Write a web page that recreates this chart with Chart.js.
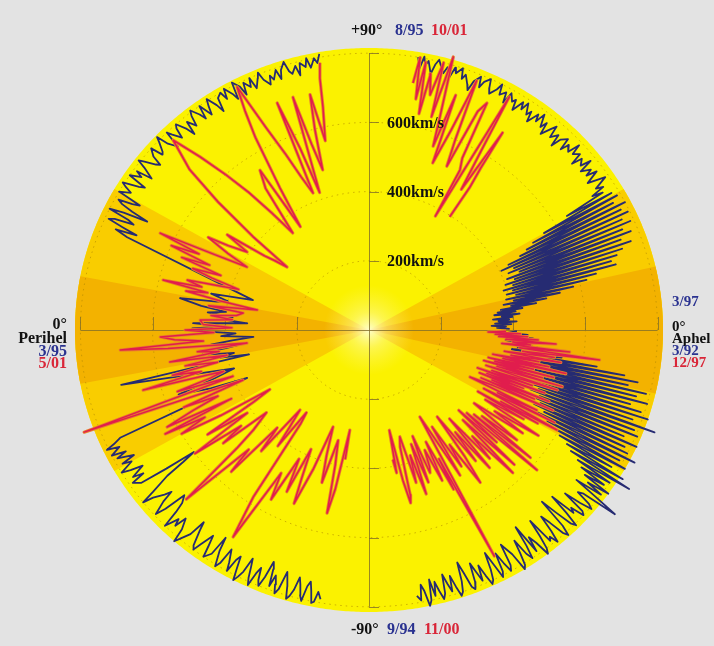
<!DOCTYPE html>
<html>
<head>
<meta charset="utf-8">
<script src="https://cdn.jsdelivr.net/npm/chart.js@4.4.0/dist/chart.umd.min.js"></script>
<style>
  html, body { margin: 0; padding: 0; background: #e3e3e3; }
  #wrap { width: 714px; height: 646px; }
</style>
</head>
<body>
<div id="wrap"><canvas id="ulysses" width="714" height="646"></canvas></div>
<script>
// Ulysses solar wind speed against heliolatitude
// every point is [heliolatitude (deg), speed (km/s)]

// first orbit (blue)
const orbit1AphSouth = [ // 3/92 -> 9/94, aphelion side
  [-0.5,410],[-1.2,385],[-1.8,440],[-2.5,400],[-3.1,455],[-3.8,410],[-4.4,380],[-5,440],[-5.6,405],[-6.2,470],
  [-6.8,415],[-7.4,450],[-8,400],[-8.5,540],[-9,430],[-9.5,640],[-10,445],[-10.5,720],[-11,430],[-11.5,760],
  [-12,455],[-12.5,735],[-13,440],[-13.5,790],[-14,470],[-14.5,765],[-15,450],[-15.5,800],[-16,480],[-16.5,755],
  [-17,460],[-17.5,790],[-18,490],[-18.5,815],[-19,470],[-19.5,775],[-20,500],[-20.5,845],[-21,480],[-21.5,790],
  [-22,510],[-22.5,805],[-23,490],[-23.5,770],[-24,520],[-24.5,815],[-25,505],[-25.5,785],[-26,540],[-26.5,800],
  [-27,525],[-27.5,830],[-28,560],[-28.5,790],[-29,590],[-29.5,815],[-30,610],[-30.5,780],[-31,640],[-31.5,825],
  [-32,660],[-32.5,855],[-33,690],[-33.5,800],[-34,710],[-34.5,790],[-35,730],[-35.5,815],[-36,750],[-36.5,800],
  [-37,720],[-37.5,790],[-38,865],[-38.5,760],[-39,745],[-39.5,790],[-40,805],[-40.5,770],[-41,720],[-41.5,790],
  [-42,800],[-42.5,760],[-43,775],[-43.5,700],[-44,760],[-44.5,805],[-45,790],[-45.5,740],[-46,690],[-46.5,780],
  [-47,810],[-47.5,795],[-48,750],[-48.5,720],[-49,770],[-49.5,805],[-50,780],[-50.5,790],[-51,710],[-51.5,760],
  [-52,800],[-52.5,815],[-53,770],[-53.5,745],[-54,790],[-54.5,700],[-55,760],[-55.5,800],[-56,780],[-56.5,730],
  [-57,770],[-57.5,805],[-58,815],[-58.5,760],[-59,740],[-59.5,720],[-60,785],[-60.5,800],[-61,770],[-61.5,735],
  [-62,790],[-62.5,805],[-63,760],[-63.5,720],[-64,770],[-64.5,800],[-65,810],[-65.5,780],[-66,745],[-66.5,790],
  [-67,760],[-67.5,730],[-68,785],[-68.5,805],[-69,795],[-69.5,750],[-70,715],[-70.5,770],[-71,800],[-71.5,810],
  [-72,780],[-72.5,745],[-73,790],[-73.5,765],[-74,735],[-74.5,790],[-75,805],[-75.5,780],[-76,750],[-76.5,790],
  [-77,740],[-77.5,800],[-78,815],[-78.5,770],[-79,750],[-79.5,795],[-80.2,780]
];
const orbit1Peri = [ // 9/94 -> 3/95 -> 8/95, perihelion side
  [-80.2,790],[-79.5,770],[-79,800],[-78.5,805],[-78,770],[-77.5,745],[-77,760],[-76.5,805],[-76,790],[-75.5,760],
  [-75,740],[-74.5,780],[-74,800],[-73.5,810],[-73,775],[-72.5,750],[-72,735],[-71.5,790],[-71,805],[-70.5,780],
  [-70,755],[-69.5,790],[-69,740],[-68.5,720],[-68,770],[-67.5,800],[-67,785],[-66.5,750],[-66,770],[-65.5,810],
  [-65,790],[-64.5,760],[-64,735],[-63.5,780],[-63,800],[-62.5,815],[-62,780],[-61.5,745],[-61,760],[-60.5,800],
  [-60,775],[-59,740],[-58.5,790],[-58,805],[-57,760],[-56.5,720],[-56,780],[-55,800],[-54.5,765],[-54,735],
  [-53,775],[-52.5,800],[-52,790],[-51,745],[-50.5,720],[-50,770],[-49,800],[-48.5,815],[-48,775],[-47,745],
  [-46.5,780],[-46,760],[-45,800],[-44.5,750],[-44,720],[-43,700],[-42.5,765],[-42,795],[-41,755],[-40.5,720],
  [-40,740],[-39,770],[-38.5,800],[-38,760],[-37,700],[-36.5,640],[-36,600],[-35.5,690],[-35,770],[-34,790],
  [-33.5,750],[-33,780],[-32,740],[-31.5,775],[-31,800],[-30,760],[-29.5,785],[-29,745],[-28,790],[-27.5,760],
  [-27,800],[-26,770],[-25.5,805],[-25,780],[-24.3,757],[-22.3,365],[-21,470],[-19.5,560],[-18,450],[-16.5,390],
  [-14.5,520],[-13,705],[-12,340],[-11,420],[-10,380],[-9,450],[-8.2,465],[-7.5,400],[-6.5,350],[-5.5,440],
  [-4.5,380],[-3.5,321],[-2.5,410],[-1.5,370],[-0.5,460],[0.5,490],[1.5,400],[2.3,488],[3.3,338],[4.5,420],
  [5.5,380],[6.5,450],[7.5,400],[8.5,470],[10,532],[11,430],[12,400],[13.5,450],[15,333],[21.8,722],
  [22.5,760],[23,700],[23.5,745],[24,790],[24.5,775],[25,720],[25.5,740],[26,800],[26.5,760],[27,690],
  [27.5,740],[28,775],[28.5,790],[29,750],[29.5,730],[30,800],[31,770],[31.5,790],[32,805],[33,760],
  [33.5,745],[34,800],[35,770],[35.5,790],[36,745],[37,780],[37.5,805],[38,790],[39,760],[39.5,750],
  [40,780],[41,800],[41.5,765],[42,770],[43,795],[43.5,810],[44,775],[45,750],[45.5,800],[46,785],
  [47,760],[47.5,790],[48,800],[49,770],[49.5,745],[50,785],[51,760],[51.5,790],[52,805],[53,780],
  [53.5,760],[54,800],[55,760],[55.5,785],[56,805],[57,775],[57.5,750],[58,790],[59,800],[59.5,775],
  [60,805],[61,780],[61.5,760],[62,810],[63,790],[63.5,760],[64,795],[65,775],[65.5,800],[66,765],
  [67,790],[67.5,805],[68,780],[69,760],[69.5,785],[70,770],[71,795],[71.5,765],[72,790],[73,810],
  [73.5,780],[74,770],[75,790],[75.5,760],[76,795],[77,780],[77.5,805],[78,775],[79,800],[79.5,785],[80.2,810]
];
const orbit1AphNorth = [ // 8/95 -> 3/97, aphelion side
  [80.2,800],[79.5,770],[79,805],[78.5,780],[78,795],[77,760],[76.5,790],[76,805],[75,780],[74.5,770],
  [74,790],[73,765],[72.5,795],[72,780],[71,800],[70.5,770],[70,785],[69,760],[68.5,745],[68,775],
  [67,795],[66.5,765],[66,785],[65,800],[64.5,775],[64,760],[63,780],[62.5,800],[62,770],[61,785],
  [60.5,755],[60,790],[59,770],[58.5,780],[58,750],[57,785],[56.5,765],[56,790],[55,760],[54.5,775],
  [54,745],[53,780],[52.5,760],[52,790],[51,755],[50.5,775],[50,740],[49,770],[48.5,785],[48,750],
  [47,770],[46.5,735],[46,765],[45,780],[44.5,745],[44,770],[43,755],[42.5,790],[42,760],[41,775],
  [40.5,740],[40,770],[39,755],[38.5,785],[38,745],[37,770],[36.5,750],[36,780],[35,740],[34.5,765],
  [34,790],[33,750],[32.5,770],[32,730],[31.5,760],[31,640],[30.5,780],[30,560],[29.5,790],[29,520],
  [28.5,770],[28,495],[27.5,800],[27,470],[26.5,780],[26,430],[25.5,795],[25,405],[24.5,770],[24,440],
  [23.5,790],[23,420],[22.5,760],[22,450],[21.5,780],[21,410],[20.5,745],[20,430],[19.5,770],[19,400],
  [18.5,740],[18,420],[17.5,720],[17,390],[16.5,700],[16,415],[15.5,710],[15,395],[14.5,650],[14,420],
  [13.5,620],[13,390],[12.5,580],[12,410],[11.5,540],[11,380],[10.5,500],[10,400],[9.5,470],[9,370],
  [8.5,430],[8,360],[7.5,410],[7,350],[6.5,420],[6,370],[5.5,400],[5,345],[4.5,390],[4,360],
  [3.5,410],[3,350],[2.5,395],[2,340],[1.5,380],[1,355],[0.5,390]
];

// second orbit (red)
const orbit2AphSouth = [ // 12/97 -> 11/00, aphelion side
  [-0.5,380],[-1,330],[-1.5,420],[-2,350],[-2.5,440],[-3,360],[-3.5,470],[-4,380],[-4.5,520],[-5,400],
  [-5.5,450],[-6,370],[-6.5,560],[-7,420],[-7.7,645],[-8.2,430],[-8.8,520],[-9.3,380],[-10,540],[-10.5,400],
  [-11,480],[-11.5,350],[-12,510],[-12.5,380],[-13,560],[-13.5,340],[-14,470],[-14.5,360],[-15,530],[-15.5,330],
  [-16,500],[-16.5,370],[-17,560],[-17.5,340],[-18.4,550],[-19,360],[-19.5,480],[-20,320],[-20.5,520],[-21,350],
  [-21.5,460],[-22,330],[-22.5,540],[-23,370],[-23.5,500],[-24,340],[-24.5,560],[-25,380],[-25.9,311],[-26.5,520],
  [-27,400],[-27.5,580],[-28,360],[-29,596],[-29.5,420],[-30,540],[-30.5,350],[-31,500],[-32,380],[-33,560],
  [-34,420],[-35,520],[-36,360],[-37.8,519],[-38.5,400],[-39.5,580],[-40,380],[-41,617],[-41.5,362],[-42.5,480],
  [-43,340],[-44,560],[-45,368],[-46,574],[-47,420],[-48,500],[-49,340],[-50,520],[-51,380],[-52,480],
  [-53,314],[-54,450],[-55,538],[-56,400],[-57,470],[-58,330],[-59,490],[-60.7,288],[-62,740],[-62.5,420],
  [-63,517],[-64,360],[-65,480],[-66,380],[-67,430],[-67.7,446],[-68.5,330],[-69.5,470],[-70.5,350],[-71.5,500],
  [-72.5,380],[-73.5,460],[-74.5,320],[-75.7,349],[-76.5,490],[-77,513],[-77.8,444],[-78.5,340],[-79,295],[-79.5,420],
  [-80,380]
];
const orbit2Peri = [ // 11/00 -> 5/01 -> 10/01, perihelion side
  [-80,380],[-79.6,294],[-78.5,470],[-77.6,542],[-76.5,400],[-75,330],[-73.5,460],[-72,380],[-70.4,297],[-69,430],
  [-67.5,543],[-66.5,470],[-65,380],[-64,520],[-62.5,420],[-61,560],[-59.5,480],[-57.8,707],[-56.4,580],[-55,330],
  [-54,295],[-53,420],[-52,360],[-50.4,300],[-49.5,460],[-48,380],[-47,560],[-46,480],[-44,704],[-43,500],
  [-42,430],[-40,371],[-39,520],[-38,450],[-36.5,600],[-35.4,414],[-34,540],[-33,380],[-32,324],[-31,480],
  [-30,600],[-29,520],[-28,640],[-27.5,430],[-26.6,626],[-25.5,540],[-24.5,460],[-23.5,560],[-22.5,378],[-20.5,843],
  [-19.5,400],[-18.5,560],[-17.5,460],[-16.5,420],[-15.5,650],[-14.5,480],[-13.5,560],[-12.5,430],[-11.5,520],[-10.5,400],
  [-9.5,560],[-8.5,420],[-7.5,480],[-6.4,340],[-5.5,560],[-4.8,692],[-4,460],[-3,540],[-2,579],[-1,430],
  [0,510],[1,380],[2,460],[3.5,469],[4.5,380],[5.5,440],[6.5,370],[8,352],[9,450],[10.6,315],
  [11.5,420],[12.5,520],[13.5,460],[14.2,589],[15,480],[16,524],[17,440],[18,380],[19,460],[20,520],
  [21,440],[22,560],[23,480],[24,600],[25,520],[25.8,643],[27,480],[28.3,384],[29.5,450],[31,520],
  [32,460],[33.7,406],[35,480],[36.5,360],[37.5,330],[38.7,291],[40,420],[41.5,560],[43,680],[45.3,772],
  [46.9,685],[48.5,600],[50,520],[51.5,430],[53,351],[55,500],[56.8,552],[57.5,354],[59,480],[60.5,640],
  [61.5,720],[62.5,792],[64,650],[65.5,560],[67,480],[68.6,425],[68.8,704],[70,560],[71,420],[72.6,705],
  [73.5,560],[74.5,480],[75.5,600],[76.5,700],[77.5,560],[78.8,657],[79.4,740],[80,784]
];
const orbit2AphNorth = [ // 10/01 -> , aphelion side
  [80.3,724],[79.8,800],[79,680],[78.5,790],[77.5,640],[77,760],[76,700],[75,800],[74.3,640],[73.5,823],
  [72.3,646],[71.5,560],[70.5,720],[69.9,514],[68.5,620],[67.5,780],[66.5,600],[65.5,520],[64.5,700],[63.5,733],
  [62.5,560],[61.4,527],[60.8,377],[60,778],[59,600],[57.8,480],[57,680],[56.5,560],[55.9,499],[55.6,396]
];

const speedRings = [200, 400, 600, 800];
const speedLabels = ['200km/s', '400km/s', '600km/s'];
const wideBand = 30;      // deg, outer shaded wedge
const streamerPeri = 11;  // deg, darkest wedge, perihelion side
const streamerAph = 13;   // deg, darkest wedge, aphelion side
const rMax = 815;

const topLabels = ['+90°', '8/95', '10/01'];
const bottomLabels = ['-90°', '9/94', '11/00'];
const periLabels = ['0°', 'Perihel', '3/95', '5/01'];
const aphLabels = ['3/97', '0°', 'Aphel', '3/92', '12/97'];

const BLUE = '#262b72', RED = '#e11d4d', RED_EDGE = '#e8832a';
const TXT_BLUE = '#2a3290', TXT_RED = '#d92638', TXT_BLACK = '#111111';

// side = 1 for aphelion (right half), -1 for perihelion (left half)
function toXY(points, side) {
  return points.map(([lat, v]) => {
    const a = lat * Math.PI / 180;
    return { x: side * v * Math.cos(a), y: v * Math.sin(a) };
  });
}

function line(data, color, width, order) {
  return {
    data, showLine: true, borderColor: color, borderWidth: width,
    pointRadius: 0, tension: 0, fill: false, order, clip: false,
    borderJoinStyle: 'round'
  };
}

const blueSegs = [toXY(orbit1AphSouth, 1), toXY(orbit1Peri, -1), toXY(orbit1AphNorth, 1)];
const redSegs = [toXY(orbit2AphSouth, 1), toXY(orbit2Peri, -1), toXY(orbit2AphNorth, 1)];

const polarBackground = {
  id: 'polarBackground',
  beforeDatasetsDraw(chart) {
    const { ctx, scales: { x, y } } = chart;
    const P = (v, deg) => {
      const a = deg * Math.PI / 180;
      return [x.getPixelForValue(v * Math.cos(a)), y.getPixelForValue(v * Math.sin(a))];
    };
    const c = P(0, 0);
    function sector(r, a0, a1, fill) {
      ctx.beginPath();
      ctx.moveTo(c[0], c[1]);
      for (let a = a0; a <= a1 + 1e-6; a += 0.5) {
        const p = P(r, a);
        ctx.lineTo(p[0], p[1]);
      }
      ctx.closePath();
      ctx.fillStyle = fill;
      ctx.fill();
    }
    ctx.save();
    sector(rMax, 0, 360, '#fbf200');
    sector(rMax, -wideBand, wideBand, '#f9cd00');
    sector(rMax, 180 - wideBand, 180 + wideBand, '#f9cd00');
    sector(rMax, -streamerAph, streamerAph, '#f3b200');
    sector(rMax, 180 - streamerPeri, 180 + streamerPeri, '#f3b200');

    // pale glow in the middle
    const g = ctx.createRadialGradient(c[0], c[1], 0, c[0], c[1], 45);
    g.addColorStop(0, 'rgba(255,255,225,0.9)');
    g.addColorStop(0.4, 'rgba(255,250,170,0.45)');
    g.addColorStop(1, 'rgba(255,245,120,0)');
    ctx.fillStyle = g;
    ctx.beginPath();
    ctx.arc(c[0], c[1], 45, 0, Math.PI * 2);
    ctx.fill();

    // dotted speed rings
    ctx.strokeStyle = 'rgba(175,135,0,0.6)';
    ctx.lineWidth = 1;
    ctx.setLineDash([1.5, 4]);
    speedRings.forEach(r => {
      ctx.beginPath();
      for (let a = 0; a <= 360; a += 1) {
        const p = P(r, a);
        if (a === 0) ctx.moveTo(p[0], p[1]); else ctx.lineTo(p[0], p[1]);
      }
      ctx.stroke();
    });
    ctx.setLineDash([]);

    // axes and ticks
    ctx.strokeStyle = 'rgba(130,110,40,0.8)';
    ctx.lineWidth = 1;
    const top = P(800, 90), bot = P(800, -90), lft = P(800, 180), rgt = P(800, 0);
    ctx.beginPath();
    ctx.moveTo(Math.round(c[0]) + 0.5, top[1]); ctx.lineTo(Math.round(c[0]) + 0.5, bot[1]);
    ctx.moveTo(lft[0], Math.round(c[1]) + 0.5); ctx.lineTo(rgt[0], Math.round(c[1]) + 0.5);
    speedRings.forEach(r => {
      [90, -90].forEach(a => {
        const p = P(r, a);
        ctx.moveTo(p[0], Math.round(p[1]) + 0.5); ctx.lineTo(p[0] + 10, Math.round(p[1]) + 0.5);
      });
      [0, 180].forEach(a => {
        const p = P(r, a);
        ctx.moveTo(Math.round(p[0]) + 0.5, p[1]); ctx.lineTo(Math.round(p[0]) + 0.5, p[1] - 13);
      });
    });
    ctx.stroke();
    ctx.restore();
  },
  afterDatasetsDraw(chart) {
    const { ctx, chartArea, scales: { x, y } } = chart;
    const cx = x.getPixelForValue(0), cy = y.getPixelForValue(0);
    ctx.save();
    ctx.font = 'bold 16px "Liberation Serif", "DejaVu Serif", serif';
    ctx.textBaseline = 'middle';
    ctx.textAlign = 'left';
    ctx.fillStyle = TXT_BLACK;
    speedLabels.forEach((t, i) => {
      ctx.fillText(t, cx + 18, y.getPixelForValue(speedRings[i]) + 1);
    });

    const topY = chartArea.top - 17, botY = chartArea.bottom + 18;
    const colors3 = [TXT_BLACK, TXT_BLUE, TXT_RED];
    [-18, 26, 62].forEach((dx, i) => {
      ctx.fillStyle = colors3[i];
      ctx.fillText(topLabels[i], cx + dx, topY);
    });
    [-18, 18, 55].forEach((dx, i) => {
      ctx.fillStyle = colors3[i];
      ctx.fillText(bottomLabels[i], cx + dx, botY);
    });

    ctx.textAlign = 'right';
    const periColors = [TXT_BLACK, TXT_BLACK, TXT_BLUE, TXT_RED];
    [-5, 9, 22, 34].forEach((dy, i) => {
      ctx.fillStyle = periColors[i];
      ctx.fillText(periLabels[i], chartArea.left - 8, cy + dy);
    });

    ctx.font = 'bold 15px "Liberation Serif", "DejaVu Serif", serif';
    ctx.textAlign = 'left';
    const aphColors = [TXT_BLUE, TXT_BLACK, TXT_BLACK, TXT_BLUE, TXT_RED];
    [-28, -3, 9, 21, 33].forEach((dy, i) => {
      ctx.fillStyle = aphColors[i];
      ctx.fillText(aphLabels[i], chartArea.right + 9, cy + dy);
    });
    ctx.restore();
  }
};

new Chart(document.getElementById('ulysses'), {
  type: 'scatter',
  data: {
    datasets: [
      ...blueSegs.map(d => line(d, BLUE, 1.8, 3)),
      ...redSegs.map(d => line(d, RED_EDGE, 3.2, 2)),
      ...redSegs.map(d => line(d, RED, 1.5, 1))
    ]
  },
  options: {
    responsive: false,
    animation: false,
    layout: { padding: { left: 75, right: 51, top: 48, bottom: 34 } },
    scales: {
      x: { type: 'linear', min: -rMax, max: rMax, display: false },
      y: { type: 'linear', min: -rMax, max: rMax, display: false }
    },
    plugins: { legend: { display: false }, tooltip: { enabled: false } }
  },
  plugins: [polarBackground]
});
</script>
</body>
</html>
